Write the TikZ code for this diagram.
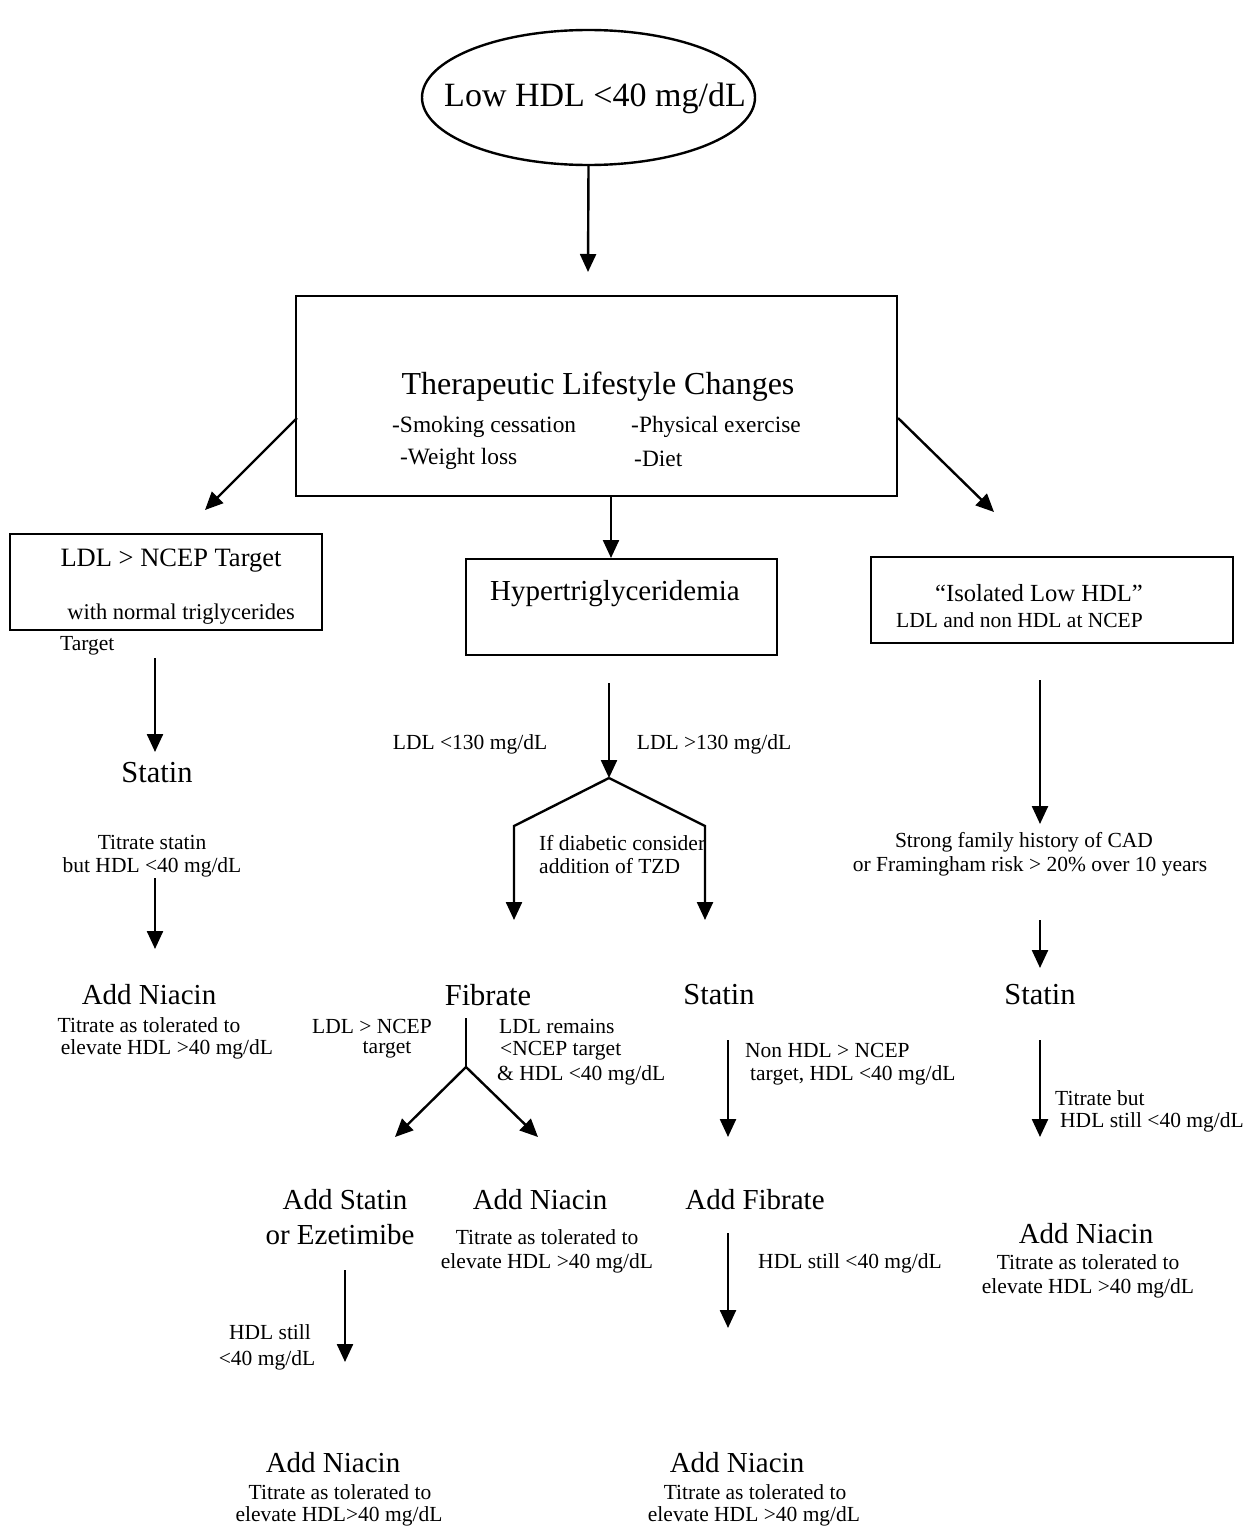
\documentclass[tikz,border=0pt]{standalone}
\usepackage{fontspec}
\setmainfont{Liberation Serif}
\usetikzlibrary{arrows.meta,shapes.geometric}
\tikzset{
  ln/.style={line width=2.4pt},
  arr/.style={ln,-{Triangle[length=18pt,width=16pt]}},
  boxd/.style={draw,line width=2.7pt,inner sep=0pt},
  tx/.style={inner sep=0pt,anchor=center},
  fH/.style={tx,font=\fontsize{34}{40}\selectfont},
  fT/.style={tx,font=\fontsize{32}{38}\selectfont},
  fB/.style={tx,font=\fontsize{29}{35}\selectfont},
  fS/.style={tx,font=\fontsize{30.5}{36}\selectfont},
  fL/.style={tx,font=\fontsize{26.5}{32}\selectfont},
  fI/.style={tx,font=\fontsize{24.6}{30}\selectfont},
  fM/.style={tx,font=\fontsize{23.4}{28}\selectfont},
  fW/.style={tx,font=\fontsize{22.5}{27}\selectfont},
  fs/.style={tx,font=\fontsize{21.5}{26}\selectfont},
}
\begin{document}
\begin{tikzpicture}[x=1pt,y=-1pt]
\useasboundingbox (0,0) rectangle (1259,1528);

% ---- top ellipse
\node[draw,ellipse,line width=2.4pt,inner sep=0pt,minimum width=333pt,minimum height=135pt] (ell) at (588.5,97.5) {};
\node[fH] (ellT) at (595,98) {Low HDL <40 mg/dL};

% ---- TLC box
\node[boxd,minimum width=601pt,minimum height=200pt] (tlc) at (596.5,396) {};
\node[fT] (tlcT) at (598,387) {Therapeutic Lifestyle Changes};
\node[fM,anchor=west] (b1) at (392,427) {-Smoking cessation};
\node[fM,anchor=west] (b2) at (631,427) {-Physical exercise};
\node[fM,anchor=west] (b3) at (400,459) {-Weight loss};
\node[fM,anchor=west] (b4) at (634,459) {-Diet};

% ---- three boxes
\node[boxd,minimum width=312pt,minimum height=96pt] (lbox) at (166,582) {};
\node[fL] (lT) at (171,561) {LDL > NCEP Target};
\node[fW] (lS) at (181,614) {with normal triglycerides};
\node[fs,anchor=west] (lTg) at (60,646) {Target};

\node[boxd,minimum width=311pt,minimum height=96pt] (hbox) at (621.5,607) {};
\node[fB] (hT) at (615,594) {Hypertriglyceridemia};

\node[boxd,minimum width=362pt,minimum height=86pt] (rbox) at (1052,600) {};
\node[fI] (rT) at (1039,593) {“Isolated Low HDL”};
\node[fs,anchor=west] (rS) at (896,620) {LDL and non HDL at NCEP};

% ---- left column
\node[fS] (stL) at (157,773) {Statin};
\node[fs] (titL1) at (152,842) {Titrate statin};
\node[fs] (titL2) at (152,867) {but HDL <40 mg/dL};
\node[fB] (niaL) at (149,995) {Add Niacin};
\node[fs] (niaL1) at (149,1025) {Titrate as tolerated to};
\node[fs] (niaL2) at (167,1049) {elevate HDL >40 mg/dL};

% ---- middle column
\node[fs] (lt130) at (470,744) {LDL <130 mg/dL};
\node[fs] (gt130) at (714,744) {LDL >130 mg/dL};
\node[fs,anchor=west] (diab1) at (539,843) {If diabetic consider};
\node[fs,anchor=west] (diab2) at (539,866) {addition of TZD};

\node[fS] (fib) at (488,995) {Fibrate};
\node[fS] (stM) at (719,995) {Statin};

\node[fs] (ncep1) at (372,1026) {LDL > NCEP};
\node[fs] (ncep2) at (387,1050) {target};
\node[fs,anchor=west] (rem1) at (499,1026) {LDL remains};
\node[fs,anchor=west] (rem2) at (500,1051) {<NCEP target};
\node[fs,anchor=west] (rem3) at (497,1075) {\& HDL <40 mg/dL};

\node[fB] (addSt1) at (345,1200) {Add Statin};
\node[fB] (addSt2) at (340,1235) {or Ezetimibe};
\node[fB] (niaM) at (540,1200) {Add Niacin};
\node[fs] (niaM1) at (547,1237) {Titrate as tolerated to};
\node[fs] (niaM2) at (547,1263) {elevate HDL >40 mg/dL};

\node[fs] (still1) at (270,1332) {HDL still};
\node[fs] (still2) at (267,1360) {<40 mg/dL};

\node[fB] (niaB1) at (333,1463) {Add Niacin};
\node[fs] (niaB11) at (340,1492) {Titrate as tolerated to};
\node[fs] (niaB12) at (339,1516) {elevate HDL>40 mg/dL};

\node[fs,anchor=west] (non1) at (745,1050) {Non HDL > NCEP};
\node[fs,anchor=west] (non2) at (750,1075) {target, HDL <40 mg/dL};
\node[fB] (addFib) at (755,1200) {Add Fibrate};
\node[fs] (still3) at (850,1263) {HDL still <40 mg/dL};

\node[fB] (niaB2) at (737,1463) {Add Niacin};
\node[fs] (niaB21) at (755,1492) {Titrate as tolerated to};
\node[fs] (niaB22) at (754,1516) {elevate HDL >40 mg/dL};

% ---- right column
\node[fs] (fam1) at (1024,842) {Strong family history of CAD};
\node[fs] (fam2) at (1030,866) {or Framingham risk > 20\% over 10 years};
\node[fS] (stR) at (1040,995) {Statin};
\node[fs,anchor=west] (tb1) at (1055,1098) {Titrate but};
\node[fs,anchor=west] (tb2) at (1060,1122) {HDL still <40 mg/dL};
\node[fB] (niaR) at (1086,1234) {Add Niacin};
\node[fs] (niaR1) at (1088,1262) {Titrate as tolerated to};
\node[fs] (niaR2) at (1088,1288) {elevate HDL >40 mg/dL};

% ---- connector end points
\coordinate (c1) at (588,272);
\coordinate (c2s) at (297,418); \coordinate (c2e) at (205,510);
\coordinate (c3s) at (611,496); \coordinate (c3e) at (611,558);
\coordinate (c4s) at (898,418); \coordinate (c4e) at (994,512);
\coordinate (l1s) at (155,658); \coordinate (l1e) at (155,752);
\coordinate (l2s) at (155,878); \coordinate (l2e) at (155,949);
\coordinate (m1s) at (609,683); \coordinate (fork) at (609,778);
\coordinate (fkL) at (514,826); \coordinate (fkLe) at (514,920);
\coordinate (fkR) at (705,826); \coordinate (fkRe) at (705,920);
\coordinate (fbs) at (466,1018); \coordinate (fbj) at (466,1067);
\coordinate (fbL) at (395,1137); \coordinate (fbR) at (538,1137);
\coordinate (as1) at (345,1270); \coordinate (as2) at (345,1362);
\coordinate (sm1) at (728,1040); \coordinate (sm2) at (728,1137);
\coordinate (af1) at (728,1233); \coordinate (af2) at (728,1328);
\coordinate (r1s) at (1040,680); \coordinate (r1e) at (1040,824);
\coordinate (r2s) at (1040,920); \coordinate (r2e) at (1040,968);
\coordinate (r3s) at (1040,1040); \coordinate (r3e) at (1040,1137);

% ---- connectors
\draw[arr] (ell.south) -- (c1);
\draw[arr] (c2s) -- (c2e);
\draw[arr] (c3s) -- (c3e);
\draw[arr] (c4s) -- (c4e);
\draw[arr] (l1s) -- (l1e);
\draw[arr] (l2s) -- (l2e);
\draw[arr] (m1s) -- (fork);
\draw[arr] (fork) -- (fkL) -- (fkLe);
\draw[arr] (fork) -- (fkR) -- (fkRe);
\draw[ln] (fbs) -- (fbj);
\draw[arr] (fbj) -- (fbL);
\draw[arr] (fbj) -- (fbR);
\draw[arr] (as1) -- (as2);
\draw[arr] (sm1) -- (sm2);
\draw[arr] (af1) -- (af2);
\draw[arr] (r1s) -- (r1e);
\draw[arr] (r2s) -- (r2e);
\draw[arr] (r3s) -- (r3e);
\end{tikzpicture}
\end{document}
